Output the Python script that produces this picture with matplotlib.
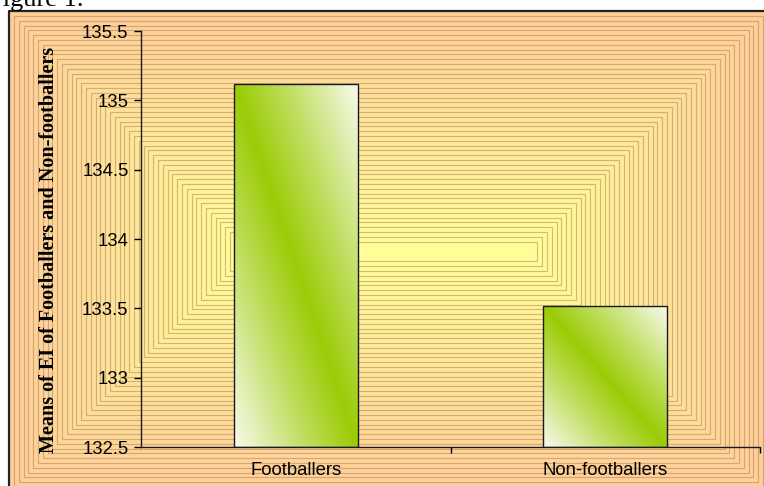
import numpy as np
import matplotlib.pyplot as plt
from matplotlib.patches import Rectangle
from matplotlib.colors import LinearSegmentedColormap

plt.rcParams['font.family'] = ['Liberation Sans', 'DejaVu Sans']

groups = ['Footballers', 'Non-footballers']
means = [135.12, 133.52]
y_ticks = [132.5, 133, 133.5, 134, 134.5, 135, 135.5]
y_tick_labels = ['132.5', '133', '133.5', '134', '134.5', '135', '135.5']
y_title = 'Means of EI of Footballers and Non-footballers'

W, H = 764, 486
fig = plt.figure(figsize=(W / 100, H / 100), dpi=100)

# backdrop: rectangular "from centre" gradient, worked in pixel units
bg = fig.add_axes([0, 0, 1, 1])
L, T, R, B = 9, 11, 768, 492
xx, yy = np.meshgrid(np.arange(W) + 0.5, np.arange(H) + 0.5)
inset = np.minimum.reduce([xx - L, R - xx, yy - T, B - yy])
t = np.clip(inset / ((B - T) / 2), 0, 1)
edge = np.array([255, 204, 153]) / 255
mid = np.array([255, 255, 153]) / 255
img = edge + (mid - edge) * t[..., None]
img[inset < 0] = 1
bg.imshow(img, extent=(0, W, H, 0), interpolation='nearest', aspect='auto')
for k in np.arange(5, 232, 4.8):
    bg.add_patch(Rectangle((L + k, T + k), R - L - 2 * k, B - T - 2 * k,
                           fill=False, ec='#a0804e', lw=0.8, alpha=0.5))
bg.plot([L, L, W], [H, T, T], color='#222222', lw=1.6)
bg.set_xlim(0, W)
bg.set_ylim(H, 0)
bg.axis('off')

fig.text(-12 / W, 1 - 6 / H, 'Figure 1.', family='Liberation Serif',
         fontsize=19, va='baseline')

# chart
ax = fig.add_axes([141 / W, 1 - 447 / H, (760 - 141) / W, (447 - 31) / H])
ax.patch.set_alpha(0)
ymin, ymax = y_ticks[0], y_ticks[-1]
x = np.arange(len(groups))
bars = ax.bar(x, [m - ymin for m in means], bottom=ymin, width=0.4,
              facecolor='none', edgecolor='#1a1a1a', lw=1, zorder=3)

cmap = LinearSegmentedColormap.from_list(
    'bar', [(0, '#f8faec'), (0.3, '#bedd5c'), (0.5, '#9acc06'),
            (0.7, '#bedd5c'), (1, '#f8faec')])
u = np.linspace(0, 1, 200)
U, V = np.meshgrid(u, u)
grad = (U + V) / 2
for bar in bars:
    x0, w = bar.get_x(), bar.get_width()
    y0, h = bar.get_y(), bar.get_height()
    im = ax.imshow(grad, cmap=cmap, vmin=0, vmax=1, origin='lower',
                   extent=(x0, x0 + w, y0, y0 + h), aspect='auto',
                   interpolation='bilinear', zorder=2)
    im.set_clip_path(bar)

ax.set_xlim(-0.5, 1.5)
ax.set_ylim(ymin, ymax)
ax.set_yticks(y_ticks, y_tick_labels)
ax.set_xticks(x, groups)
ax.set_xticks([0.5, 1.5], minor=True)
ax.tick_params(axis='y', direction='out', length=5, width=1, pad=4, labelsize=13.3)
ax.tick_params(axis='x', which='major', length=0, pad=11, labelsize=13.3)
ax.tick_params(axis='x', which='minor', direction='out', length=4.5, width=1)
for side in ['top', 'right']:
    ax.spines[side].set_visible(False)
for side in ['left', 'bottom']:
    ax.spines[side].set_color('#1a1a1a')
    ax.spines[side].set_linewidth(1)

fig.text(49 / W, 1 - 250 / H, y_title, family='Liberation Serif', fontweight='bold',
         fontsize=14.5, rotation=90, ha='center', va='center')

fig.savefig('out.png', dpi=100)
